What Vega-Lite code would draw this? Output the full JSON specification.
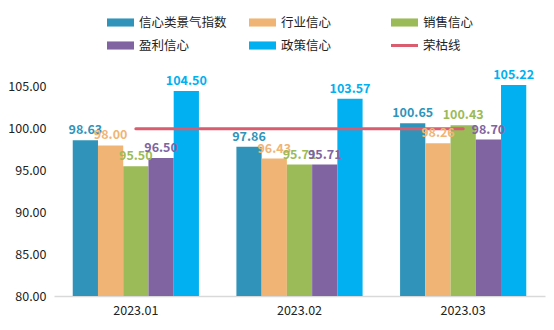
{
  "$schema": "https://vega.github.io/schema/vega-lite/v6.json",
  "autosize": "none",
  "width": 491,
  "height": 230,
  "padding": {"left": 54, "top": 66, "right": 9, "bottom": 34},
  "background": "white",
  "config": {
    "view": {"stroke": null},
    "font": "Noto Sans CJK SC"
  },
  "data": {
    "values": [
      {"month": "2023.01", "series": "信心类景气指数", "value": 98.63},
      {"month": "2023.01", "series": "行业信心", "value": 98.00},
      {"month": "2023.01", "series": "销售信心", "value": 95.50},
      {"month": "2023.01", "series": "盈利信心", "value": 96.50},
      {"month": "2023.01", "series": "政策信心", "value": 104.50},
      {"month": "2023.02", "series": "信心类景气指数", "value": 97.86},
      {"month": "2023.02", "series": "行业信心", "value": 96.43},
      {"month": "2023.02", "series": "销售信心", "value": 95.71},
      {"month": "2023.02", "series": "盈利信心", "value": 95.71},
      {"month": "2023.02", "series": "政策信心", "value": 103.57},
      {"month": "2023.03", "series": "信心类景气指数", "value": 100.65},
      {"month": "2023.03", "series": "行业信心", "value": 98.26},
      {"month": "2023.03", "series": "销售信心", "value": 100.43},
      {"month": "2023.03", "series": "盈利信心", "value": 98.70},
      {"month": "2023.03", "series": "政策信心", "value": 105.22}
    ]
  },
  "encoding": {
    "x": {
      "field": "month", "type": "nominal",
      "scale": {"paddingInner": 0.229, "paddingOuter": 0.1145},
      "axis": {
        "title": null, "labelAngle": 0, "ticks": false,
        "domainColor": "#D9D9D9", "domainWidth": 1.5,
        "labelFontSize": 12.5, "labelColor": "#222222", "labelPadding": 8,
        "labelFont": "Noto Sans CJK SC"
      }
    },
    "y": {
      "field": "value", "type": "quantitative",
      "scale": {"domain": [80, 107.5], "zero": false, "nice": false, "clamp": true},
      "axis": {
        "title": null, "values": [80, 85, 90, 95, 100, 105], "format": ".2f",
        "grid": false, "domain": false, "ticks": false, "labelPadding": 8,
        "labelFontSize": 12.5, "labelColor": "#222222", "labelFont": "Noto Sans CJK SC"
      }
    }
  },
  "layer": [
    {
      "mark": {"type": "bar", "clip": true},
      "encoding": {
        "xOffset": {
          "field": "series", "type": "nominal",
          "sort": ["信心类景气指数", "行业信心", "销售信心", "盈利信心", "政策信心"],
          "scale": {"paddingInner": 0, "paddingOuter": 0}
        },
        "y2": {"datum": 80},
        "color": {
          "field": "series", "type": "nominal",
          "scale": {
            "domain": ["信心类景气指数", "行业信心", "销售信心", "盈利信心", "政策信心", "荣枯线"],
            "range": ["#3094BA", "#F0B574", "#9BBB59", "#8064A2", "#00B0F0", "#D95D6E"]
          },
          "legend": {
            "title": null, "orient": "none", "legendX": 53, "legendY": -57,
            "direction": "horizontal", "columns": 3, "gridAlign": "all",
            "columnPadding": 22, "rowPadding": 3,
            "labelFontSize": 12.5, "labelColor": "#222222", "labelFont": "Noto Sans CJK SC",
            "labelOffset": 5, "symbolSize": 729,
            "encode": {
              "symbols": {
                "update": {
                  "shape": {"signal": "datum.value === '荣枯线' ? 'M-1,-0.11H1V0.11H-1Z' : 'M-1,-0.3H1V0.3H-1Z'"},
                  "fill": {"scale": "color", "field": "value"},
                  "fillOpacity": {"value": 1},
                  "strokeWidth": {"value": 0}
                }
              }
            }
          }
        }
      }
    },
    {
      "data": {
        "values": [
          {"month": "2023.01", "series": "荣枯线", "value": 100},
          {"month": "2023.02", "series": "荣枯线", "value": 100},
          {"month": "2023.03", "series": "荣枯线", "value": 100}
        ]
      },
      "mark": {"type": "line", "strokeWidth": 3, "strokeCap": "round"},
      "encoding": {
        "color": {"field": "series", "type": "nominal"}
      }
    },
    {
      "mark": {"type": "text", "fontWeight": "bold", "fontSize": 12.5, "baseline": "alphabetic", "dy": -6, "font": "Noto Sans CJK SC"},
      "encoding": {
        "xOffset": {
          "field": "series", "type": "nominal",
          "sort": ["信心类景气指数", "行业信心", "销售信心", "盈利信心", "政策信心"]
        },
        "text": {"field": "value", "type": "quantitative", "format": ".2f"},
        "color": {"field": "series", "type": "nominal"}
      }
    }
  ]
}
